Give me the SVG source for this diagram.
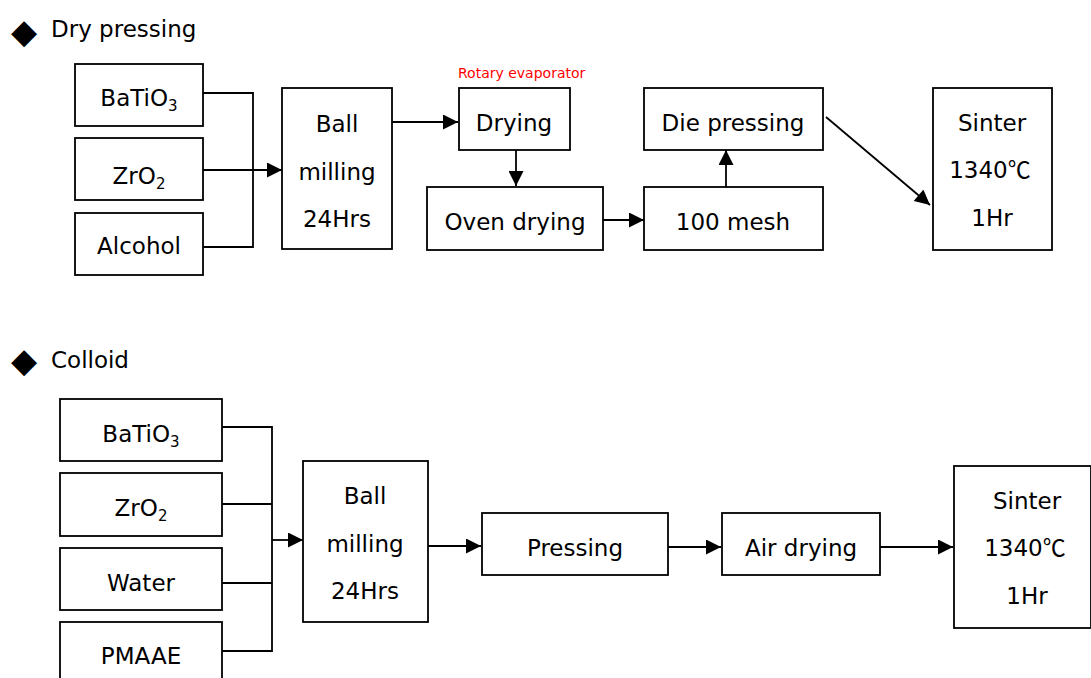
<svg xmlns="http://www.w3.org/2000/svg" width="1091" height="678" viewBox="0 0 1091 678">
<style>
text{font-family:"DejaVu Sans","Noto Sans CJK SC",sans-serif;fill:#000}
.t{font-size:23px;text-anchor:middle}
.h{font-size:23px}
.b{font-size:34px}
.s{font-size:15px}
.cj{font-family:"Noto Sans CJK SC","Noto Sans CJK JP",sans-serif;font-size:23px}
.r{font-size:14px;fill:#ff0000}
rect{fill:#fff;stroke:#000;stroke-width:1.8}
.c line,.c polyline{stroke:#000;stroke-width:1.8;fill:none}
.a{marker-end:url(#ah)}
</style>
<defs>
<marker id="ah" viewBox="0 0 10 10" refX="10" refY="5" markerWidth="16" markerHeight="15" markerUnits="userSpaceOnUse" orient="auto">
<path d="M0,0 L10,5 L0,10 z" fill="#000"/>
</marker>
</defs>
<rect width="1091" height="678" style="stroke:none"/>

<g id="title1"><text class="b" x="11" y="43">◆</text><text class="h" x="51" y="37">Dry pressing</text></g>
<g id="title2"><text class="b" x="11" y="372">◆</text><text class="h" x="51" y="368">Colloid</text></g>

<g class="c" id="connectors">
<polyline points="203,93 253,93 253,247 203,247"/>
<line class="a" x1="203" y1="170" x2="282" y2="170"/>
<line class="a" x1="390" y1="122" x2="458" y2="122"/>
<line class="a" x1="516" y1="150" x2="516" y2="186"/>
<line class="a" x1="603" y1="220" x2="644" y2="220"/>
<line class="a" x1="726" y1="187" x2="726" y2="150"/>
<line class="a" x1="826" y1="117" x2="930" y2="205"/>
<polyline points="222,427 272,427 272,651 222,651"/>
<line x1="222" y1="504" x2="272" y2="504"/>
<line x1="222" y1="583" x2="272" y2="583"/>
<line class="a" x1="272" y1="540" x2="303" y2="540"/>
<line class="a" x1="428" y1="546" x2="481" y2="546"/>
<line class="a" x1="668" y1="547" x2="721" y2="547"/>
<line class="a" x1="880" y1="547" x2="953" y2="547"/>
</g>

<g id="batio3-1"><rect x="75" y="64" width="128" height="62"/><text class="t" x="139" y="106">BaTiO<tspan class="s" dy="5">3</tspan></text></g>
<g id="zro2-1"><rect x="75" y="138" width="128" height="62"/><text class="t" x="139" y="184">ZrO<tspan class="s" dy="5">2</tspan></text></g>
<g id="alcohol"><rect x="75" y="213" width="128" height="62"/><text class="t" x="139" y="254">Alcohol</text></g>
<g id="ballmill-1"><rect x="282" y="88" width="110" height="161"/><text class="t" x="337" y="132">Ball</text><text class="t" x="337" y="180">milling</text><text class="t" x="337" y="227">24Hrs</text></g>
<g id="drying"><text class="r" x="458" y="78">Rotary evaporator</text><rect x="459" y="88" width="111" height="62"/><text class="t" x="514" y="131">Drying</text></g>
<g id="oven"><rect x="427" y="187" width="176" height="63"/><text class="t" x="515" y="230">Oven drying</text></g>
<g id="mesh"><rect x="644" y="187" width="179" height="63"/><text class="t" x="733" y="230">100 mesh</text></g>
<g id="die"><rect x="644" y="88" width="179" height="62"/><text class="t" x="733" y="131">Die pressing</text></g>
<g id="sinter-1"><rect x="933" y="88" width="119" height="162"/><text class="t" x="992" y="131">Sinter</text><text class="t" x="990" y="178">1340<tspan class="cj">℃</tspan></text><text class="t" x="992" y="226">1Hr</text></g>

<g id="batio3-2"><rect x="60" y="399" width="162" height="62"/><text class="t" x="141" y="442">BaTiO<tspan class="s" dy="5">3</tspan></text></g>
<g id="zro2-2"><rect x="60" y="473" width="162" height="63"/><text class="t" x="141" y="516">ZrO<tspan class="s" dy="5">2</tspan></text></g>
<g id="water"><rect x="60" y="548" width="162" height="62"/><text class="t" x="141" y="591">Water</text></g>
<g id="pmaae"><rect x="60" y="622" width="162" height="70"/><text class="t" x="141" y="664">PMAAE</text></g>
<g id="ballmill-2"><rect x="303" y="461" width="125" height="161"/><text class="t" x="365" y="504">Ball</text><text class="t" x="365" y="552">milling</text><text class="t" x="365" y="599">24Hrs</text></g>
<g id="pressing"><rect x="482" y="513" width="186" height="62"/><text class="t" x="575" y="556">Pressing</text></g>
<g id="airdrying"><rect x="722" y="513" width="158" height="62"/><text class="t" x="801" y="556">Air drying</text></g>
<g id="sinter-2"><rect x="954" y="466" width="137" height="162"/><text class="t" x="1027" y="509">Sinter</text><text class="t" x="1025" y="556">1340<tspan class="cj">℃</tspan></text><text class="t" x="1027" y="604">1Hr</text></g>
</svg>
